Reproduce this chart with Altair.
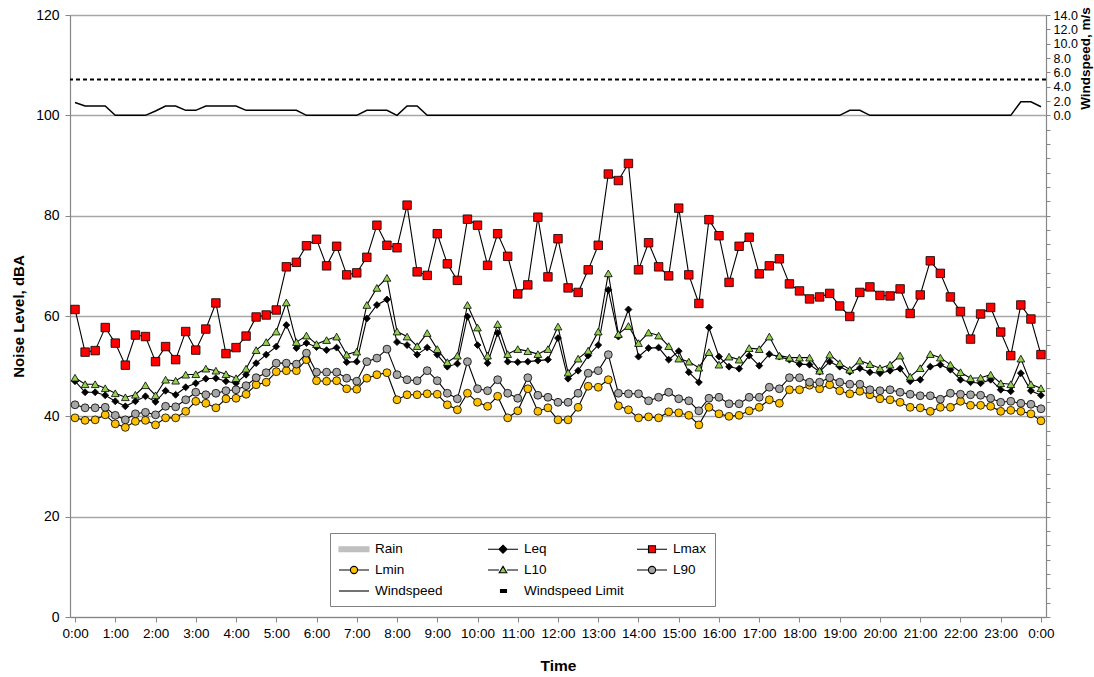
import altair as alt
import pandas as pd

# Noise logger readings, one every 15 minutes from 0:00 to 0:00 the next day (dBA)
lmax = [61.3, 52.8, 53.1, 57.7, 54.6, 50.2, 56.2, 55.9, 50.9, 53.9,
        51.3, 56.9, 53.2, 57.4, 62.6, 52.5, 53.7, 56.0, 59.8, 60.2,
        61.2, 69.8, 70.7, 74.0, 75.3, 70.0, 73.9, 68.2, 68.6, 71.7,
        78.1, 74.1, 73.6, 82.1, 68.8, 68.1, 76.4, 70.4, 67.1, 79.3,
        78.1, 70.1, 76.4, 71.9, 64.4, 66.2, 79.7, 67.8, 75.4, 65.6,
        64.7, 69.2, 74.1, 88.3, 87.0, 90.4, 69.2, 74.6, 69.8, 68.0,
        81.5, 68.2, 62.5, 79.2, 76.0, 66.7, 73.9, 75.7, 68.4, 70.0,
        71.4, 66.4, 65.0, 63.4, 63.8, 64.5, 62.0, 59.9, 64.7, 65.8,
        64.1, 64.0, 65.4, 60.5, 64.2, 71.0, 68.5, 63.8, 60.9, 55.4,
        60.4, 61.7, 56.8, 52.1, 62.2, 59.4, 52.3]
leq = [47.0, 44.8, 44.8, 44.2, 43.0, 42.0, 43.0, 44.0, 42.9, 45.1,
       44.3, 45.8, 46.6, 47.5, 47.6, 47.0, 46.6, 48.3, 50.6, 52.3,
       53.9, 58.2, 53.6, 54.6, 53.8, 53.2, 53.7, 50.8, 50.9, 59.5,
       62.2, 63.3, 54.8, 54.2, 52.3, 53.7, 52.3, 49.9, 50.5, 59.9,
       54.2, 50.6, 56.6, 50.9, 50.8, 50.9, 51.1, 51.3, 55.6, 47.5,
       49.1, 52.1, 54.2, 65.2, 55.9, 61.3, 51.9, 53.6, 53.7, 51.3,
       53.0, 48.8, 46.8, 57.7, 51.9, 49.9, 49.5, 52.1, 50.1, 52.4,
       51.9, 51.3, 50.4, 50.3, 48.9, 50.9, 49.9, 48.9, 49.6, 48.8,
       48.6, 49.1, 49.5, 47.0, 47.3, 49.9, 50.3, 49.3, 47.3, 46.8,
       46.6, 47.3, 45.3, 45.0, 48.6, 45.1, 44.2]
l10 = [47.7, 46.4, 46.4, 45.6, 44.6, 43.8, 44.3, 46.2, 44.2, 47.3,
       47.1, 48.3, 48.4, 49.5, 49.1, 48.4, 47.6, 49.5, 53.2, 54.8,
       56.9, 62.7, 54.8, 56.1, 54.4, 55.2, 55.9, 52.3, 52.9, 62.2,
       65.6, 67.6, 56.9, 55.9, 54.0, 56.6, 53.4, 50.8, 52.1, 62.2,
       57.7, 52.1, 58.4, 52.4, 53.4, 53.0, 52.4, 53.4, 57.9, 48.7,
       51.5, 53.1, 56.9, 68.5, 56.4, 58.0, 54.6, 56.7, 56.1, 54.0,
       51.5, 50.9, 49.7, 52.8, 50.3, 51.9, 51.3, 53.6, 53.4, 55.9,
       52.1, 51.7, 51.7, 51.7, 49.1, 52.3, 50.6, 49.3, 51.1, 50.4,
       49.6, 50.3, 52.1, 47.9, 49.6, 52.4, 51.7, 50.3, 48.8, 47.6,
       47.7, 48.3, 46.6, 46.4, 51.5, 46.4, 45.6]
l90 = [42.3, 41.7, 41.7, 41.8, 40.2, 39.3, 40.5, 40.8, 40.3, 42.0,
       41.9, 43.3, 44.8, 44.3, 44.6, 45.1, 45.3, 46.1, 47.7, 48.7,
       50.6, 50.6, 50.4, 52.6, 48.8, 48.8, 48.8, 47.6, 47.0, 50.9,
       51.6, 53.4, 48.3, 47.3, 47.1, 49.1, 47.1, 44.6, 43.5, 50.9,
       45.5, 45.1, 47.3, 44.6, 43.6, 47.7, 44.2, 43.8, 42.8, 42.8,
       44.6, 48.6, 49.1, 52.3, 44.6, 44.5, 44.5, 43.1, 43.8, 44.8,
       43.5, 43.1, 41.1, 43.6, 43.8, 42.5, 42.5, 43.8, 43.8, 45.8,
       45.5, 47.7, 47.7, 46.8, 46.8, 47.7, 46.8, 46.4, 46.4, 45.3,
       45.1, 45.3, 44.8, 44.4, 44.1, 44.1, 43.4, 44.6, 44.4, 44.3,
       44.2, 43.6, 42.8, 43.0, 42.6, 42.4, 41.5]
lmin = [39.7, 39.2, 39.3, 40.3, 38.5, 37.8, 39.0, 39.2, 38.3, 39.7,
        39.7, 41.0, 43.0, 42.6, 41.7, 43.5, 43.6, 44.4, 46.3, 46.8,
        48.9, 49.1, 49.1, 51.3, 47.1, 47.0, 47.1, 45.5, 45.4, 47.6,
        48.3, 48.7, 43.3, 44.3, 44.3, 44.5, 44.4, 42.3, 41.3, 44.6,
        42.8, 42.0, 44.0, 39.7, 41.1, 45.5, 41.0, 41.7, 39.3, 39.3,
        41.8, 46.0, 45.8, 47.3, 42.1, 41.3, 39.7, 39.9, 39.7, 40.9,
        40.7, 40.2, 38.3, 41.8, 40.5, 40.0, 40.2, 41.1, 41.8, 43.3,
        42.6, 45.3, 45.3, 46.2, 45.5, 46.3, 45.1, 44.5, 45.0, 44.3,
        43.5, 43.3, 42.8, 41.8, 41.7, 41.0, 41.8, 41.8, 43.0, 42.2,
        42.2, 42.0, 41.0, 41.2, 41.0, 40.5, 39.1]

# Wind speed at the same times (m/s) and the limit for valid measurements
windspeed = [1.8, 1.3, 1.3, 1.3, 0.0, 0.0, 0.0, 0.0, 0.6, 1.3,
             1.3, 0.7, 0.7, 1.3, 1.3, 1.3, 1.3, 0.7, 0.7, 0.7,
             0.7, 0.7, 0.7, 0.0, 0.0, 0.0, 0.0, 0.0, 0.0, 0.7,
             0.7, 0.7, 0.0, 1.3, 1.3, 0.0, 0.0, 0.0, 0.0, 0.0,
             0.0, 0.0, 0.0, 0.0, 0.0, 0.0, 0.0, 0.0, 0.0, 0.0,
             0.0, 0.0, 0.0, 0.0, 0.0, 0.0, 0.0, 0.0, 0.0, 0.0,
             0.0, 0.0, 0.0, 0.0, 0.0, 0.0, 0.0, 0.0, 0.0, 0.0,
             0.0, 0.0, 0.0, 0.0, 0.0, 0.0, 0.0, 0.7, 0.7, 0.0,
             0.0, 0.0, 0.0, 0.0, 0.0, 0.0, 0.0, 0.0, 0.0, 0.0,
             0.0, 0.0, 0.0, 0.0, 1.9, 1.9, 1.2]
windspeed_limit = 5.0

legend_keys = ["Rain", "Leq", "Lmax", "Lmin", "L10", "L90", "Windspeed", "Windspeed Limit"]
hour_ticks = list(range(0, 25))
level_ticks = [0, 20, 40, 60, 80, 100, 120]
wind_ticks = list(range(-70, 15, 2))

NARROW = "Liberation Sans Narrow, Arial Narrow, Liberation Sans, sans-serif"
SANS = "Liberation Sans, Arial, sans-serif"
AXIS_GREY = "#868686"

times = [i * 0.25 for i in range(len(lmax))]
series = {"Leq": leq, "Lmax": lmax, "Lmin": lmin, "L10": l10, "L90": l90}
noise = pd.DataFrame(
    [{"Time": t, "Series": s, "Level": v} for s, vals in series.items() for t, v in zip(times, vals)]
)
wind = pd.DataFrame({"Time": times, "Speed": windspeed})
limit = pd.DataFrame({"Speed": [windspeed_limit]})
keys = pd.DataFrame({"Key": legend_keys})

marker = {
    "Leq": dict(shape="diamond", fill="#000000", size=48),
    "Lmax": dict(shape="square", fill="#ff0000", size=72),
    "Lmin": dict(shape="circle", fill="#ffc000", size=62),
    "L10": dict(shape="triangle-up", fill="#92d050", size=60),
    "L90": dict(shape="circle", fill="#a6a6a6", size=62),
}

x_enc = alt.X(
    "Time:Q",
    scale=alt.Scale(domain=[-0.125, 24.125], nice=False, zero=False),
    axis=alt.Axis(
        values=hour_ticks, labelExpr="(datum.value % 24) + ':00'", title="Time",
        grid=False, labelFont=NARROW, labelFontSize=13.5, labelColor="#000000",
        labelPadding=4, labelOverlap=False, labelFlush=False,
        tickSize=5, tickColor=AXIS_GREY, domainColor=AXIS_GREY, domainWidth=1.2,
        titleFont=SANS, titleFontSize=15.5, titleFontWeight="bold", titleColor="#000000",
        titleY=48, titleBaseline="middle",
    ),
)
y_enc = alt.Y(
    "Level:Q",
    scale=alt.Scale(domain=[0, 120], nice=False),
    axis=alt.Axis(
        values=level_ticks, title="Noise Level, dBA", grid=True,
        gridColor="#a6a6a6", gridWidth=1.5,
        labelFont=NARROW, labelFontSize=14, labelColor="#000000", labelPadding=6,
        tickSize=5, tickColor=AXIS_GREY, domainColor=AXIS_GREY, domainWidth=1.2,
        titleFont=SANS, titleFontSize=15, titleFontWeight="bold", titleColor="#000000",
        titleX=-52, titleY=301, titleAngle=270, titleBaseline="middle", titleAlign="center",
    ),
)

base = alt.Chart(noise)
layers = []
for name in series:
    sel = base.transform_filter(alt.datum.Series == name)
    layers.append(sel.mark_line(color="#000000", strokeWidth=1.1).encode(x=x_enc, y=y_enc))
    m = marker[name]
    layers.append(
        sel.mark_point(
            shape=m["shape"], size=m["size"], filled=True, fill=m["fill"],
            stroke="#000000", strokeWidth=0.8, opacity=1,
        ).encode(x=x_enc, y=y_enc)
    )

# Legend key glyphs: a 30 px wide sample drawn in symbol units (radius R px)
R = 7.0


def ux(px):
    return f"{(px - R) / R:.3f}"


def uy(px):
    return f"{px / R:.3f}"


def circle(cx, r):
    rr = f"{r / R:.3f}"
    return (f"M{ux(cx - r)},0A{rr},{rr},0,1,0,{ux(cx + r)},0"
            f"A{rr},{rr},0,1,0,{ux(cx - r)},0Z")


split_line = f"M{ux(0)},0H{ux(11)}M{ux(19)},0H{ux(30)}"
full_line = f"M{ux(0)},0H{ux(30)}"
key_paths = [
    f"M{ux(0)},{uy(-2.4)}H{ux(30)}V{uy(2.4)}H{ux(0)}Z",
    full_line + f"M{ux(15)},{uy(-4)}L{ux(19)},0L{ux(15)},{uy(4)}L{ux(11)},0Z",
    split_line + f"M{ux(11.5)},{uy(-3.5)}H{ux(18.5)}V{uy(3.5)}H{ux(11.5)}Z",
    split_line + circle(15, 3.6),
    split_line + f"M{ux(15)},{uy(-3.6)}L{ux(18.8)},{uy(2.8)}H{ux(11.2)}Z",
    split_line + circle(15, 3.6),
    full_line,
    f"M{ux(12.5)},{uy(-1.5)}H{ux(18.5)}V{uy(1.5)}H{ux(12.5)}Z",
]
key_fill = ["#c0c0c0", "#000000", "#ff0000", "#ffc000", "#92d050", "#a6a6a6", "#000000", "#000000"]
key_stroke = ["#c0c0c0", "#000000", "#000000", "#000000", "#000000", "#000000", "#000000", "#000000"]

legend = alt.Legend(
    title=None, orient="none", legendX=260, legendY=518, columns=3, direction="horizontal",
    gridAlign="all", symbolSize=(2 * R) ** 2, symbolStrokeWidth=1.1,
    labelFont=SANS, labelFontSize=13.5, labelColor="#000000", labelOffset=21,
    rowPadding=6, columnPadding=10, padding=8,
    strokeColor="#808080", fillColor="#ffffff",
)
key_layer = alt.Chart(keys).transform_filter("datum.Key === 'none'").mark_point(
    filled=True, opacity=1
).encode(
    fill=alt.Fill("Key:N", scale=alt.Scale(domain=legend_keys, range=key_fill), legend=legend),
    stroke=alt.Stroke("Key:N", scale=alt.Scale(domain=legend_keys, range=key_stroke), legend=legend),
    shape=alt.Shape("Key:N", scale=alt.Scale(domain=legend_keys, range=key_paths), legend=legend),
)

noise_chart = alt.layer(*layers, key_layer)

wind_y = alt.Y(
    "Speed:Q",
    scale=alt.Scale(domain=[-70, 14], nice=False, zero=False),
    axis=alt.Axis(
        orient="right", values=wind_ticks, grid=False,
        labelExpr="datum.value >= 0 ? format(datum.value, '.1f') : ''",
        labelFont=NARROW, labelFontSize=12.5, labelColor="#000000", labelPadding=3,
        tickSize=4, tickColor=AXIS_GREY, domainColor=AXIS_GREY, domainWidth=1.2,
        title="Windspeed, m/s", titleFont=SANS, titleFontSize=13.5, titleFontWeight="bold",
        titleColor="#000000", titleX=39, titleY=43, titleAngle=270,
        titleBaseline="middle", titleAlign="center",
    ),
)
wind_line = alt.Chart(wind).mark_line(color="#000000", strokeWidth=1.5).encode(x=x_enc, y=wind_y)
limit_rule = alt.Chart(limit).mark_rule(
    color="#000000", strokeWidth=2.2, strokeDash=[4, 3]
).encode(y=wind_y)
wind_chart = alt.layer(wind_line, limit_rule)

chart = (
    alt.layer(noise_chart, wind_chart)
    .resolve_scale(y="independent")
    .properties(
        width=976, height=602,
        autosize=alt.AutoSizeParams(type="none"),
        padding={"left": 70, "top": 15, "right": 48, "bottom": 60},
        background="#ffffff",
    )
    .configure_view(strokeWidth=0)
)

chart.save("out.html", embed_options={"renderer": "svg", "actions": False})
